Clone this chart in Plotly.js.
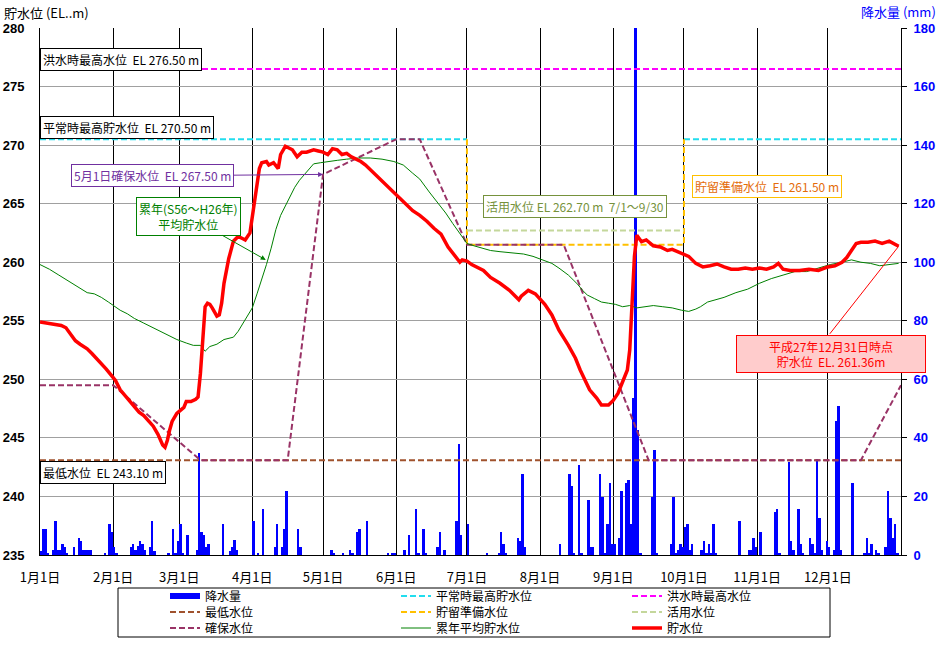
<!DOCTYPE html>
<html><head><meta charset="utf-8">
<script src="https://cdn.plot.ly/plotly-3.0.1.min.js"></script>
<style>html,body{margin:0;padding:0;background:#fff}</style>
</head><body><div id="chart" style="width:942px;height:645px"></div>
<script>
// ---- data ----
const monthStartDays = [0,31,59,90,120,151,181,212,243,273,304,334];
const monthLabels = ['1月1日','2月1日','3月1日','4月1日','5月1日','6月1日','7月1日','8月1日','9月1日','10月1日','11月1日','12月1日'];
const yearDays = 365;

// daily rainfall (mm), day index from Jan 1 (0)
const rainDays = [0,1,2,3,5,6,7,8,9,10,11,14,16,17,18,19,20,21,27,29,30,31,32,38,39,40,41,42,43,44,46,47,48,54,56,57,58,59,60,62,66,67,68,69,70,71,77,80,81,82,83,90,
 92,94,99,100,102,103,104,109,110,123,124,128,131,132,134,135,138,147,149,150,154,156,159,160,162,163,168,169,171,176,177,178,181,
 189,194,195,196,197,202,203,204,205,220,224,225,226,228,229,232,233,234,237,238,239,240,241,242,243,245,246,248,249,250,251,252,253,254,259,260,261,267,268,269,270,271,272,273,274,275,276,
 280,281,282,283,284,285,286,296,300,301,302,303,305,311,312,313,317,318,319,321,322,323,326,327,328,329,330,331,333,334,336,337,338,339,344,349,350,351,352,354,355,358,359,360,361,362,363];
const rainMm = [1.5,9,9,0.8,1.7,11.7,1.7,1.7,3.8,2.6,0.8,2.8,5.9,4.7,1.7,1.7,1.7,1.7,0.6,10.6,8,2.8,0.6,2.8,3.8,1.7,3,4.8,3.6,1.7,2.8,11.7,1.5,0.7,9,0.6,4.8,10.6,0.6,6.8,1.7,34.7,8,6.8,2.6,3.6,10.6,1.2,2.8,5.1,1.7,11.7,
 0.8,15.7,2.8,10.6,2.8,8.9,21.9,8.9,2.8,1.7,0.8,0.8,1.7,0.8,7.9,8.9,11.7,0.8,0.8,0.8,1.7,6.8,15.7,0.8,8.9,0.8,2.8,7.9,1.7,11.7,37.9,6.8,10.6,
 0.7,0.7,7.9,3.8,0.7,5.8,4.8,27.7,2.7,3.8,27.7,23.6,0.7,30.7,0.7,18.8,2.7,2.7,27.7,19.8,0.7,10.6,24.6,3.8,3.8,5.8,21.9,24.6,25.6,10.6,53.6,250,42.7,0.7,19.8,35.9,0.7,3.8,19.8,0.7,1.7,3.8,2.7,9.6,10.6,1.7,3.8,
 1.7,4.8,0.7,3.8,0.7,10.6,0.7,11.6,1.7,1.7,5.8,2.7,7.9,14.7,15.7,0.7,31.9,4.8,1.7,15.7,3.8,0.7,5.8,3.8,0.7,32.8,12.6,1.7,4.8,2.7,1.7,45.8,50.9,1.7,24.6,0.7,5.8,0.7,3.8,1.7,0.7,2.7,21.9,12.6,5.8,10.6,0.7];

// reservoir level 貯水位 (EL m)
const levelDays = [0,3,6,9,11,13,15,17,20,22,24,26,28,30,32,34,36,38,40,42,44,46,48,50,52,53,54,55,56,58,60,61,62,64,66,67,68,69,70,71,72,73,75,76,77,78,79,80,82,84,86,87,89,90,91,92,93,94,96,97,99,101,102,104,106,107,109,111,113,116,118,
 120,122,124,126,128,130,132,134,136,138,140,142,144,146,148,150,152,154,156,158,161,164,167,170,173,175,177,178,179,181,183,185,188,191,195,199,203,204,207,210,212,214,217,220,224,227,229,233,236,238,241,243,245,248,249,250,251,252,253,255,257,260,263,266,268,272,275,278,281,284,287,290,293,296,299,302,305,308,311,313,315,318,322,326,330,334,337,340,342,344,346,348,351,354,357,360,362,364];
const levelEL = [254.9,254.8,254.7,254.6,254.4,253.9,253.3,253.0,252.6,252.2,251.8,251.4,250.9,250.4,249.9,249.1,248.6,248.1,247.7,247.2,246.9,246.5,246.0,245.3,244.4,244.2,244.8,245.7,246.4,247.1,247.5,247.6,248.1,248.1,248.3,248.5,250.5,253.5,256.2,256.5,256.4,256.1,255.4,255.5,256.5,258.2,259.3,260.3,261.8,262.2,262.0,261.9,262.5,263.8,265.3,266.8,268.0,268.5,268.6,268.3,268.5,268.0,269.2,269.9,269.7,269.6,269.0,269.4,269.4,269.6,269.5,
 269.4,269.2,269.7,269.6,269.2,269.3,269.0,268.8,268.6,268.3,267.9,267.5,267.2,266.8,266.4,266.0,265.6,265.2,264.8,264.4,264.0,263.5,262.9,262.4,261.3,260.8,260.2,260.0,260.2,260.1,259.8,259.6,259.3,258.7,258.2,257.6,256.8,257.1,257.6,257.3,256.9,256.4,255.5,254.2,252.9,251.8,250.8,249.1,248.4,247.8,247.8,248.2,248.8,250.2,250.8,252.5,256.8,260.5,262.3,261.75,261.9,261.4,261.3,261.0,261.1,260.8,260.5,259.9,259.6,259.7,259.85,259.6,259.4,259.4,259.5,259.4,259.5,259.4,259.6,259.9,259.4,259.3,259.3,259.4,259.3,259.6,259.7,260.0,260.4,261.0,261.6,261.7,261.7,261.8,261.6,261.8,261.6,261.36];

// 累年平均貯水位 (EL m)
const avgDays = [0,4,8,12,16,20,23,26,29,31,34,37,40,44,48,51,55,58,62,65,68,70,72,75,78,82,84,86,88,90,92,94,96,98,100,102,104,106,108,110,113,116,119,122,126,130,135,140,145,150,154,158,161,165,169,172,175,178,181,184,187,191,195,200,205,209,213,217,220,222,224,226,228,230,232,235,238,241,244,247,250,253,256,260,264,268,272,275,278,280,283,286,290,295,300,305,310,315,320,325,330,335,340,344,348,352,356,360,364];
const avgEL = [259.8,259.4,258.9,258.4,257.9,257.4,257.3,257.0,256.6,256.3,255.9,255.6,255.2,254.8,254.4,254.1,253.7,253.4,253.1,252.9,252.9,252.4,252.8,253.0,253.4,253.6,254.1,254.8,255.4,256.1,257.3,258.5,259.8,261.2,262.8,264.0,264.8,265.6,266.4,267.0,267.7,268.4,268.5,268.6,268.7,268.8,268.9,268.9,268.8,268.6,268.3,267.6,267.1,266.0,265.0,264.2,263.3,262.4,261.6,261.4,261.2,261.0,260.9,260.8,260.7,260.5,260.2,259.9,259.5,259.2,258.9,258.5,258.1,257.6,257.2,256.9,256.6,256.5,256.4,256.2,256.3,256.1,256.2,256.3,256.2,256.1,255.9,255.8,256.0,256.2,256.6,256.8,257.0,257.4,257.7,258.2,258.6,258.9,259.2,259.2,259.5,259.8,260.0,260.2,260.0,259.9,259.7,259.8,259.9];

// 確保水位 (EL m)
const securedDays = [0,31,68,105,120,151,161,181,222,258,348,365];
const securedEL = [249.5,249.5,243.1,243.1,267.5,270.5,270.5,261.5,261.5,243.1,243.1,249.5];

const floodHWL = 276.5, normalHWL = 270.5, minWL = 243.1, prepWL = 261.5, activeWL = 262.7;
const activeStart = 181, activeEnd = 273;
const lastDay = 364, lastLevel = 261.36;

// ---- styling ----
const JP = '"Noto Sans CJK JP", "Noto Sans", sans-serif';
const dashS = '6px,3px';
const legFont = {family: JP, size: 12, color: '#000'};

const W = 942, H = 645, mL = 40, mR = 41, mT = 28, mB = 90;
const pw = W - mL - mR, ph = H - mT - mB;
const px = x => (x - mL) / pw;        // pixel -> paper
const py = y => (H - mB - y) / ph;

const legendCols = [165, 396, 627];
const legendRows = [596, 612, 628];

const traces = [];
traces.push({type:'bar', x: rainDays.map(d => d + 0.5), y: rainMm, width: 1,
  marker:{color:'#0000FF', line:{width:0}}, xaxis:'x', yaxis:'y', showlegend:false, hoverinfo:'skip'});

let legCount = 0;
const legendDefs = {};
function ln(name, x, y, line) {
  const k = legCount++;
  const key = k === 0 ? 'legend' : 'legend' + (k + 1);
  legendDefs[key] = {orientation:'v', x: px(legendCols[k % 3]), xanchor:'left',
    y: py(legendRows[Math.floor(k / 3)]), yanchor:'middle', font: legFont,
    bgcolor:'rgba(0,0,0,0)', borderwidth:0, itemclick:false, itemdoubleclick:false};
  return {type:'scatter', mode:'lines', name, x, y, line, xaxis:'x', yaxis:'y2',
    legend: key, hoverinfo:'skip', connectgaps:false};
}
// legend entry for rainfall (thick blue line symbol, data outside the x range)
traces.push(ln('降水量', [-20,-10], [250,250], {color:'#0000FF', width:6}));
traces.push(ln('平常時最高貯水位', [0, activeStart, null, activeEnd, yearDays], [normalHWL, normalHWL, null, normalHWL, normalHWL], {color:'#22DDEE', width:2, dash:dashS}));
traces.push(ln('洪水時最高水位', [0, yearDays], [floodHWL, floodHWL], {color:'#FF00FF', width:2, dash:dashS}));
traces.push(ln('最低水位', [0, yearDays], [minWL, minWL], {color:'#A0522D', width:2, dash:dashS}));
traces.push(ln('貯留準備水位', [activeStart, activeStart, activeEnd, activeEnd], [normalHWL, prepWL, prepWL, normalHWL], {color:'#FFC000', width:2, dash:dashS}));
traces.push(ln('活用水位', [activeStart, activeEnd], [activeWL, activeWL], {color:'#C4D79B', width:2, dash:dashS}));
traces.push(ln('確保水位', securedDays, securedEL, {color:'#993366', width:2, dash:dashS}));
traces.push(ln('累年平均貯水位', avgDays, avgEL, {color:'#008000', width:1}));
traces.push(ln('貯水位', levelDays, levelEL, {color:'#FF0000', width:3.5}));

function box(text, x, y, color, border, extra) {
  return Object.assign({text, xref:'paper', yref:'paper', x, y, xanchor:'center', yanchor:'middle',
    showarrow:false, font:{family:JP, size:12, color}, bgcolor:'#FFFFFF', bordercolor:border,
    borderwidth:1, borderpad:2}, extra || {});
}
const gap = '\u00a0\u00a0';
const annotations = [
  box('洪水時最高水位' + gap + 'EL 276.50 m', 0, py(59), '#000', '#000', {xanchor:'left'}),
  box('平常時最高貯水位' + gap + 'EL 270.50 m', 0, py(128), '#000', '#000', {xanchor:'left'}),
  box('最低水位' + gap + 'EL 243.10 m', 0, py(472.5), '#000', '#000', {xanchor:'left'}),
  box('活用水位 EL 262.70 m' + gap + '7/1～9/30', px(575), py(206), '#76923C', '#76923C'),
  box('貯留準備水位' + gap + 'EL 261.50 m', px(766.5), py(186.5), '#E46C0A', '#FFC000'),
  {text:'5月1日確保水位' + gap + 'EL 267.50 m', xref:'x', yref:'y2', x:120, y:267.5, ax:-171, ay:1.5,
    showarrow:true, arrowhead:2, arrowsize:1, arrowwidth:1, arrowcolor:'#7030A0',
    font:{family:JP, size:12, color:'#7030A0'}, bgcolor:'#FFFFFF', bordercolor:'#7030A0', borderwidth:1, borderpad:2},
  {text:'累年(S56～H26年)<br>平均貯水位', xref:'x', yref:'y2', x:95.7, y:260.2, ax:-77, ay:-43.5,
    showarrow:true, arrowhead:2, arrowsize:1, arrowwidth:1, arrowcolor:'#008000',
    font:{family:JP, size:12, color:'#008000'}, bgcolor:'#FFFFFF', bordercolor:'#008000', borderwidth:1, borderpad:2},
  // pointer line from the note box to the last day's level
  {text:'', xref:'x', yref:'y2', x:lastDay, y:lastLevel, ax:-70, ay:89,
    showarrow:true, arrowhead:0, arrowwidth:1, arrowcolor:'#FF0000'},
  box('平成27年12月31日時点<br>貯水位' + gap + 'EL. 261.36m', px(831), py(354), '#FF0000', '#FF0000',
    {bgcolor:'#FFCCCC', width:184, height:32}),
  {text:'貯水位 (EL..m)', xref:'paper', yref:'paper', x: px(2), y: py(12), xanchor:'left', yanchor:'middle',
    showarrow:false, font:{family:JP, size:13, color:'#000'}},
  {text:'降水量 (mm)', xref:'paper', yref:'paper', x: px(938), y: py(11), xanchor:'right', yanchor:'middle',
    showarrow:false, font:{family:JP, size:13, color:'#0000FF'}}
];

const layout = Object.assign({
  width: W, height: H, margin:{l:mL, r:mR, t:mT, b:mB, pad:0, autoexpand:false},
  paper_bgcolor:'#FFFFFF', plot_bgcolor:'#FFFFFF', hovermode:false, bargap:0,
  font:{family:JP, size:12, color:'#000'},
  xaxis:{range:[0, yearDays], tickmode:'array', tickvals: monthStartDays, ticktext: monthLabels,
    showgrid:true, gridcolor:'#000000', gridwidth:1, zeroline:false,
    showline:true, linecolor:'#000', linewidth:1, ticks:'', ticklabelstandoff:10,
    tickfont:{family:JP, size:13, color:'#000'}, fixedrange:true},
  yaxis:{range:[0,180], side:'right', tickmode:'linear', tick0:0, dtick:20,
    showgrid:true, gridcolor:'#A0A0A0', gridwidth:1, zeroline:false,
    showline:true, linecolor:'#000', linewidth:1, ticks:'outside', ticklen:5, tickcolor:'#000',
    ticklabelstandoff:4,
    tickfont:{family:'"Liberation Sans", Arial, sans-serif', size:13, color:'#0000FF', weight:'bold'}, fixedrange:true},
  yaxis2:{range:[235,280], overlaying:'y', side:'left', tickmode:'linear', tick0:235, dtick:5,
    showgrid:false, zeroline:false, showline:true, linecolor:'#000', linewidth:1, ticks:'',
    ticklabelstandoff:12,
    tickfont:{family:'"Liberation Sans", Arial, sans-serif', size:13, color:'#000', weight:'bold'}, fixedrange:true},
  shapes:[{type:'rect', xref:'paper', yref:'paper', x0: px(118), x1: px(830), y0: py(637), y1: py(588),
    line:{color:'#000', width:1}, fillcolor:'rgba(0,0,0,0)'}],
  annotations
}, legendDefs);

Plotly.newPlot('chart', traces, layout, {staticPlot:true, displayModeBar:false});
</script>
</body></html>
